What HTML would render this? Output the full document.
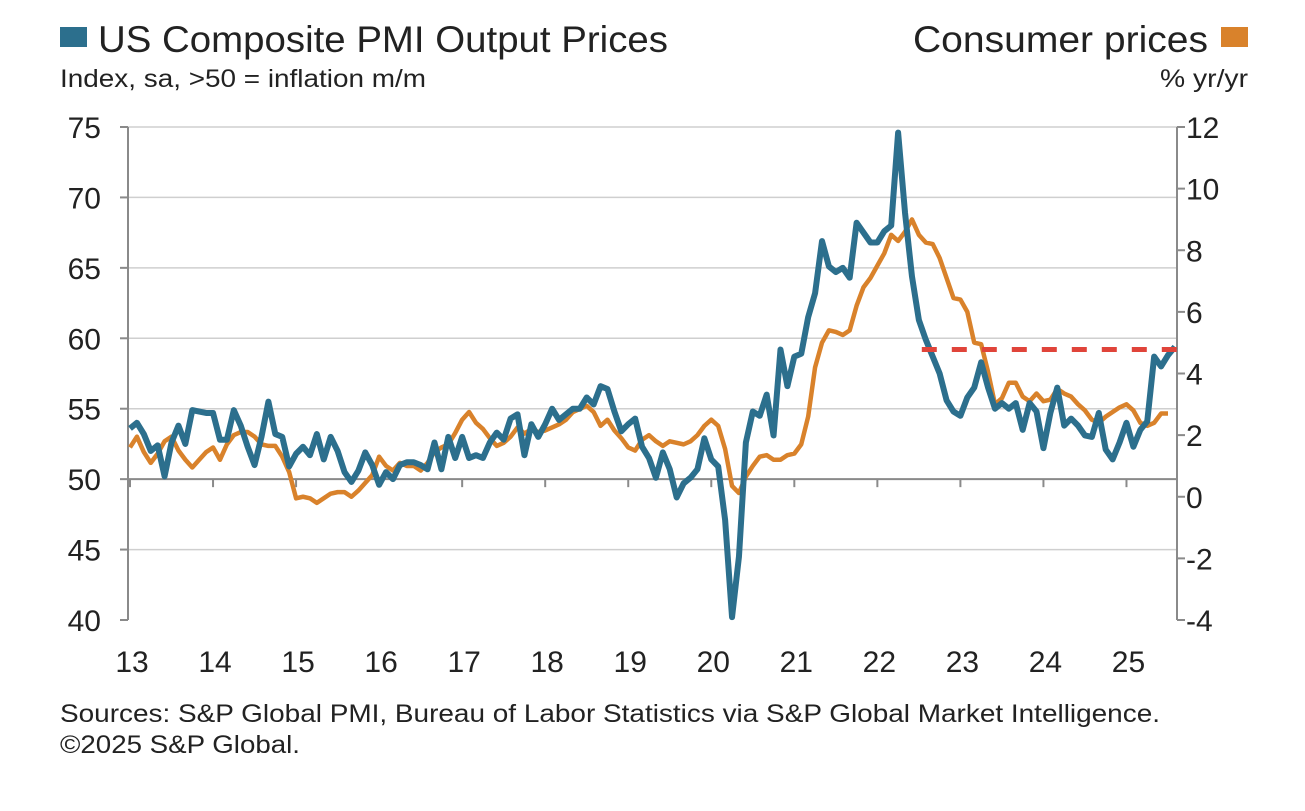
<!DOCTYPE html>
<html><head><meta charset="utf-8"><style>
body{margin:0;background:#fff;width:1305px;height:806px;overflow:hidden;font-family:"Liberation Sans",sans-serif}
svg text{font-family:"Liberation Sans",sans-serif}
</style></head><body>
<svg id="chart" width="1305" height="806" viewBox="0 0 1305 806" xmlns="http://www.w3.org/2000/svg">
<rect x="60" y="27" width="27" height="20" fill="#2c6f8d"/>
<text x="98" y="52" font-size="37" fill="#222" textLength="570" lengthAdjust="spacingAndGlyphs">US Composite PMI Output Prices</text>
<text x="60" y="87" font-size="25" fill="#222" textLength="366" lengthAdjust="spacingAndGlyphs">Index, sa, &gt;50 = inflation m/m</text>
<text x="913" y="52" font-size="37" fill="#222" textLength="295" lengthAdjust="spacingAndGlyphs">Consumer prices</text>
<rect x="1221" y="27" width="27" height="20" fill="#d9822b"/>
<text x="1160" y="87" font-size="25" fill="#222" textLength="88" lengthAdjust="spacingAndGlyphs">% yr/yr</text>
<g id="grid"></g><g id="axes"></g><g id="series"></g>
<text x="60" y="722" font-size="25" fill="#222" textLength="1100" lengthAdjust="spacingAndGlyphs">Sources: S&amp;P Global PMI, Bureau of Labor Statistics via S&amp;P Global Market Intelligence.</text>
<text x="60" y="753" font-size="25" fill="#222" textLength="240" lengthAdjust="spacingAndGlyphs">©2025 S&amp;P Global.</text>
</svg>
<script>
const yearLabels=["13","14","15","16","17","18","19","20","21","22","23","24","25"];
const leftTicks=[40,45,50,55,60,65,70,75];
const rightTicks=[-4,-2,0,2,4,6,8,10,12];
const pmi=[53.6,54.0,53.2,52.0,52.4,50.2,52.6,53.8,52.5,54.9,54.8,54.7,
54.7,52.8,52.8,54.9,53.8,52.3,51.0,53.0,55.5,53.2,53.0,50.9,
51.8,52.3,51.7,53.2,51.4,53.0,52.0,50.5,49.8,50.6,51.9,51.0,
49.6,50.5,50.0,51.0,51.2,51.2,51.0,50.7,52.6,50.7,53.0,51.5,
53.0,51.5,51.7,51.5,52.6,53.3,52.8,54.3,54.6,51.7,53.9,53.0,
53.9,55.0,54.2,54.6,55.0,55.0,55.8,55.3,56.6,56.4,54.8,53.4,
53.9,54.3,52.3,51.5,50.1,51.9,50.7,48.7,49.7,50.1,50.7,52.9,
51.4,50.9,47.1,40.2,44.5,52.6,54.8,54.5,56.0,53.1,59.2,56.6,
58.7,58.9,61.5,63.2,66.9,65.1,64.7,65.0,64.3,68.2,67.5,66.8,
66.8,67.6,68.0,74.6,68.9,64.4,61.3,59.9,58.7,57.5,55.6,54.8,
54.5,55.8,56.5,58.3,56.5,55.0,55.4,55.0,55.4,53.5,55.4,54.8,
52.2,54.7,56.5,53.8,54.3,53.8,53.1,53.0,54.7,52.1,51.4,52.6,
54.0,52.3,53.5,54.1,58.7,58.0,58.8,59.4];
const cpi=[1.6,1.95,1.45,1.1,1.4,1.8,1.95,1.5,1.2,0.95,1.2,1.45,
1.6,1.2,1.7,2.0,2.1,2.1,1.95,1.7,1.65,1.65,1.3,0.8,
-0.05,0.0,-0.05,-0.2,-0.05,0.1,0.15,0.15,0.0,0.2,0.45,0.7,
1.3,1.0,0.85,1.1,1.0,1.0,0.85,1.1,1.45,1.6,1.7,2.07,
2.5,2.75,2.4,2.2,1.9,1.65,1.75,1.95,2.25,2.05,2.2,2.1,
2.15,2.25,2.35,2.5,2.75,2.85,2.95,2.75,2.3,2.5,2.15,1.9,
1.6,1.5,1.85,2.0,1.8,1.65,1.8,1.75,1.7,1.8,2.0,2.3,
2.5,2.3,1.55,0.35,0.12,0.65,1.0,1.3,1.35,1.2,1.2,1.35,
1.4,1.7,2.6,4.2,5.0,5.4,5.35,5.25,5.4,6.2,6.8,7.1,
7.5,7.9,8.5,8.3,8.6,9.0,8.5,8.25,8.2,7.75,7.1,6.45,
6.4,6.0,5.0,4.95,4.05,3.0,3.2,3.7,3.7,3.25,3.1,3.35,
3.1,3.15,3.5,3.35,3.25,3.0,2.8,2.5,2.4,2.6,2.75,2.9,
3.0,2.8,2.4,2.3,2.4,2.7,2.7];
const refLevel=59.2, refStartIndex=115;

const NS="http://www.w3.org/2000/svg";
const X0=130, MONTH=6.92, L=128, R=1177, TOP=127, BOT=620;
const xPos=i=>X0+i*MONTH;
const yL=v=>TOP+(75-v)*(BOT-TOP)/35;
const yR=v=>TOP+(12-v)*(BOT-TOP)/16;
function mk(tag,attrs,parent){const e=document.createElementNS(NS,tag);for(const k in attrs)e.setAttribute(k,attrs[k]);parent.appendChild(e);return e;}
const grid=document.getElementById('grid'),axes=document.getElementById('axes'),series=document.getElementById('series');
leftTicks.forEach(v=>{
  if(v!==50&&v!==40){const g=mk('line',{x1:L,x2:R,y1:yL(v),y2:yL(v),stroke:'#cfcfcf','stroke-width':1.5},grid);
  
  }
  const t=mk('line',{x1:L-8,x2:L,y1:yL(v),y2:yL(v),stroke:'#8a8a8a','stroke-width':2},axes);
  
  
  const tx=mk('text',{x:101,y:yL(v)+11,'font-size':30,'text-anchor':'end',fill:'#222'},axes);tx.textContent=v;
  
  
});
rightTicks.forEach(v=>{
  const t=mk('line',{x1:R,x2:R+8,y1:yR(v),y2:yR(v),stroke:'#8a8a8a','stroke-width':2},axes);
  
  
  const tx=mk('text',{x:1186,y:yR(v)+11,'font-size':30,fill:'#222'},axes);tx.textContent=v;
  
  
});
let a=mk('line',{x1:L,x2:L,y1:TOP,y2:BOT,stroke:'#8a8a8a','stroke-width':2},axes);


a=mk('line',{x1:R,x2:R,y1:TOP,y2:BOT,stroke:'#8a8a8a','stroke-width':2},axes);


a=mk('line',{x1:L,x2:R,y1:yL(50),y2:yL(50),stroke:'#8a8a8a','stroke-width':2},axes);


yearLabels.forEach((y,i)=>{
  const xx=xPos(i*12);
  const t=mk('line',{x1:xx,x2:xx,y1:yL(50),y2:yL(50)+8,stroke:'#8a8a8a','stroke-width':2},axes);
  
  
  const tx=mk('text',{x:xx+2,y:672,'font-size':30,'text-anchor':'middle',fill:'#222'},axes);tx.textContent=y;
  
  
});
const pc=mk('polyline',{points:cpi.map((v,i)=>xPos(i)+','+yR(v)).join(' '),fill:'none',stroke:'#d9822b','stroke-width':4.5,'stroke-linejoin':'round'},series);


const pp=mk('polyline',{points:pmi.map((v,i)=>xPos(i)+','+yL(v)).join(' '),fill:'none',stroke:'#2c6f8d','stroke-width':6,'stroke-linejoin':'round'},series);


const rl=mk('line',{x1:xPos(refStartIndex)-4,x2:R,y1:yL(refLevel),y2:yL(refLevel),stroke:'#e0443a','stroke-width':5,'stroke-dasharray':'15 15'},series);


</script>
</body></html>
